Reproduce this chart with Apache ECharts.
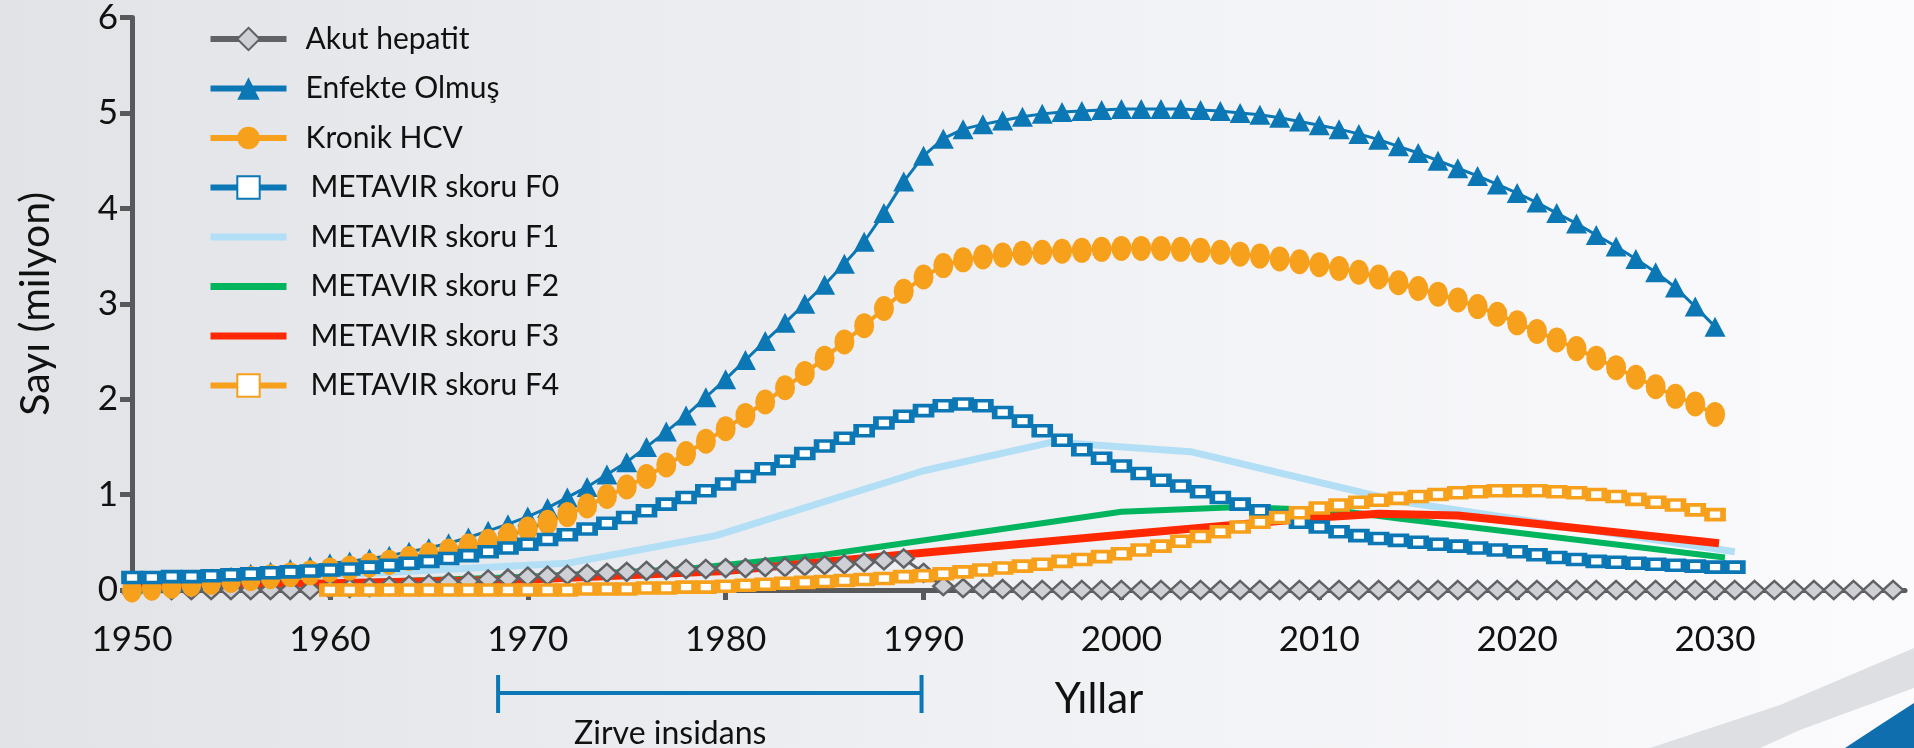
<!DOCTYPE html>
<html lang="tr" style="height: 100%">
<head>
<meta charset="utf-8">
<title>HCV - METAVIR</title>
</head>
<body style="height: 100%; margin: 0">
<div id="container" style="width: 1914px; height: 748px"></div>

<script type="text/javascript" src="https://cdn.jsdelivr.net/npm/echarts@6/dist/echarts.min.js"></script>

<script type="text/javascript">

var dom = document.getElementById('container');
var myChart = echarts.init(dom);

var FONT = 'Lato, "Noto Sans", sans-serif';

// x axis ticks (years)
var yearTicks = [1950, 1960, 1970, 1980, 1990, 2000, 2010, 2020, 2030];

// yearly series, first year + one value per year (milyon)
var akutStart = 1950;
var akutHepatit = [
    0, 0, 0, 0, 0, 0, 0, 0, 0, 0,
    0.01, 0.02, 0.03, 0.04, 0.05, 0.06, 0.08, 0.09, 0.11, 0.12,
    0.14, 0.15, 0.16, 0.17, 0.18, 0.19, 0.20, 0.21, 0.22, 0.22,
    0.23, 0.23, 0.24, 0.24, 0.25, 0.26, 0.27, 0.29, 0.31, 0.33,
    0.18, 0.04, 0.02, 0.01, 0.01, 0, 0, 0, 0, 0,
    0, 0, 0, 0, 0, 0, 0, 0, 0, 0,
    0, 0, 0, 0, 0, 0, 0, 0, 0, 0,
    0, 0, 0, 0, 0, 0, 0, 0, 0, 0,
    0, 0, 0, 0, 0, 0, 0, 0, 0, 0
];

var enfekteStart = 1950;
var enfekteOlmus = [
    0.06, 0.07, 0.08, 0.10, 0.12, 0.14, 0.17, 0.19, 0.22, 0.25,
    0.28, 0.30, 0.33, 0.36, 0.40, 0.44, 0.49, 0.55, 0.62, 0.69,
    0.77, 0.86, 0.97, 1.08, 1.21, 1.34, 1.50, 1.66, 1.83, 2.02,
    2.21, 2.41, 2.61, 2.80, 3.00, 3.20, 3.42, 3.65, 3.95, 4.28,
    4.55, 4.73, 4.83, 4.88, 4.92, 4.96, 4.99, 5.01, 5.02, 5.03,
    5.04, 5.04, 5.04, 5.04, 5.03, 5.02, 5.00, 4.98, 4.95, 4.91,
    4.87, 4.83, 4.78, 4.72, 4.65, 4.58, 4.50, 4.42, 4.34, 4.25,
    4.16, 4.06, 3.95, 3.84, 3.72, 3.60, 3.47, 3.33, 3.17, 2.97, 2.76
];

var kronikStart = 1950;
var kronikHCV = [
    0.00, 0.02, 0.04, 0.06, 0.08, 0.10, 0.12, 0.14, 0.16, 0.18,
    0.21, 0.23, 0.26, 0.29, 0.33, 0.37, 0.41, 0.46, 0.51, 0.57,
    0.64, 0.71, 0.79, 0.88, 0.98, 1.08, 1.19, 1.31, 1.43, 1.56,
    1.69, 1.83, 1.97, 2.12, 2.27, 2.43, 2.60, 2.77, 2.95, 3.13,
    3.28, 3.40, 3.46, 3.49, 3.51, 3.53, 3.54, 3.55, 3.56, 3.57,
    3.58, 3.58, 3.58, 3.57, 3.56, 3.54, 3.52, 3.50, 3.47, 3.44,
    3.41, 3.37, 3.33, 3.28, 3.22, 3.16, 3.10, 3.04, 2.97, 2.89,
    2.80, 2.71, 2.62, 2.53, 2.43, 2.33, 2.23, 2.13, 2.03, 1.95, 1.84
];

var f0Start = 1950;
var metavirF0 = [
    0.13, 0.13, 0.14, 0.14, 0.15, 0.16, 0.17, 0.18, 0.19, 0.20,
    0.21, 0.22, 0.24, 0.26, 0.28, 0.30, 0.33, 0.36, 0.40, 0.44,
    0.48, 0.53, 0.58, 0.64, 0.70, 0.76, 0.83, 0.90, 0.97, 1.04,
    1.11, 1.19, 1.27, 1.35, 1.43, 1.51, 1.59, 1.67, 1.75, 1.82,
    1.88, 1.93, 1.95, 1.93, 1.86, 1.77, 1.67, 1.57, 1.47, 1.38,
    1.30, 1.22, 1.15, 1.09, 1.03, 0.97, 0.90, 0.83, 0.77, 0.71,
    0.66, 0.61, 0.57, 0.54, 0.52, 0.50, 0.48, 0.46, 0.44, 0.42,
    0.40, 0.37, 0.34, 0.32, 0.30, 0.29, 0.28, 0.27, 0.26, 0.25, 0.24, 0.24
];

// F1-F3 are plain polylines: [year, value] vertices
var metavirF1 = [[1950, 0.05], [1972, 0.28], [1979.5, 0.57], [1990, 1.25], [1996.5, 1.55], [2003.5, 1.45], [2014, 0.93], [2031, 0.40]];
var metavirF2 = [[1950, 0.02], [1960, 0.07], [1970, 0.14], [1978, 0.22], [1985, 0.37], [2000, 0.82], [2006, 0.87], [2011, 0.83], [2014, 0.75], [2030.5, 0.34]];
var metavirF3 = [[1950, 0.05], [1960, 0.07], [1970, 0.11], [1980, 0.20], [1990, 0.39], [2000, 0.58], [2010, 0.76], [2013, 0.80], [2017, 0.78], [2030.2, 0.49]];

var f4Start = 1960;
var metavirF4 = [
    0.00, 0.00, 0.00, 0.00, 0.00, 0.00, 0.00, 0.00, 0.00, 0.00,
    0.00, 0.00, 0.00, 0.01, 0.01, 0.01, 0.02, 0.02, 0.03, 0.03,
    0.04, 0.05, 0.06, 0.07, 0.08, 0.09, 0.10, 0.11, 0.12, 0.14,
    0.15, 0.17, 0.19, 0.21, 0.23, 0.25, 0.27, 0.30, 0.32, 0.35,
    0.38, 0.42, 0.46, 0.51, 0.56, 0.61, 0.66, 0.71, 0.76, 0.81,
    0.86, 0.89, 0.92, 0.94, 0.96, 0.98, 1.00, 1.02, 1.03, 1.04,
    1.04, 1.04, 1.03, 1.02, 1.00, 0.98, 0.95, 0.92, 0.89, 0.84, 0.79
];

// "Zirve insidans" bracket, in years
var peakYears = [1968.5, 1989.9];
var peakLabelYear = 1977.2;

function yearly(start, values) {
    return values.map(function (v, i) { return [start + i, v]; });
}

var GRAY = '#616265';
var BLUE = '#0b77b5';
var ORANGE = '#f7a01c';

var plainLine = { opacity: 0 }; // legend: no marker for pure lines

var option = {
    animation: false,
    backgroundColor: new echarts.graphic.LinearGradient(0, 0, 1, 0, [
        { offset: 0, color: '#e2e3e6' },
        { offset: 0.5, color: '#eff0f3' },
        { offset: 1, color: '#fbfbfe' }
    ]),
    textStyle: { fontFamily: FONT },
    grid: { left: 132, right: 9, top: 16, bottom: 158 },
    legend: {
        orient: 'vertical',
        left: 202,
        top: 19,
        itemWidth: 76,
        itemHeight: 28,
        itemGap: 19.5,
        textStyle: { fontFamily: FONT, fontSize: 30, color: '#111', padding: [0, 0, 0, 14] },
        data: [
            { name: 'Akut hepatit', lineStyle: { width: 6 } },
            { name: 'Enfekte Olmuş', lineStyle: { width: 6 } },
            { name: 'Kronik HCV', lineStyle: { width: 6 } },
            { name: 'METAVIR skoru F0', lineStyle: { width: 6 }, textStyle: { padding: [0, 0, 0, 19] } },
            { name: 'METAVIR skoru F1', lineStyle: { width: 7 }, itemStyle: plainLine, textStyle: { padding: [0, 0, 0, 19] } },
            { name: 'METAVIR skoru F2', lineStyle: { width: 7 }, itemStyle: plainLine, textStyle: { padding: [0, 0, 0, 19] } },
            { name: 'METAVIR skoru F3', lineStyle: { width: 7 }, itemStyle: plainLine, textStyle: { padding: [0, 0, 0, 19] } },
            { name: 'METAVIR skoru F4', lineStyle: { width: 6 }, textStyle: { padding: [0, 0, 0, 19] } }
        ]
    },
    xAxis: {
        type: 'value',
        min: 1950,
        max: 2039.6,
        interval: 10,
        name: 'Yıllar',
        nameLocation: 'middle',
        nameGap: 88,
        nameTextStyle: { fontFamily: FONT, fontSize: 42, color: '#111', padding: [0, 0, 0, 161] },
        axisLine: { lineStyle: { color: '#58595b', width: 5 } },
        axisTick: { length: 10, lineStyle: { color: '#58595b', width: 5 }, customValues: yearTicks },
        axisLabel: {
            fontFamily: FONT, fontSize: 35, color: '#111', margin: 32, customValues: yearTicks,
            formatter: function (v) { return String(v); }
        },
        splitLine: { show: false }
    },
    yAxis: {
        type: 'value',
        min: 0,
        max: 6,
        interval: 1,
        name: 'Sayı (milyon)',
        nameLocation: 'middle',
        nameGap: 76,
        nameTextStyle: { fontFamily: FONT, fontSize: 41, color: '#111' },
        axisLine: { show: true, lineStyle: { color: '#58595b', width: 5 } },
        axisTick: { show: true, length: 12, lineStyle: { color: '#58595b', width: 5 } },
        axisLabel: { fontFamily: FONT, fontSize: 35, color: '#111', margin: 14 },
        splitLine: { show: false }
    },
    series: [
        {
            name: 'Akut hepatit',
            type: 'line',
            data: yearly(akutStart, akutHepatit),
            symbol: 'diamond',
            symbolSize: [20, 18],
            lineStyle: { color: GRAY, width: 3 },
            itemStyle: { color: '#cfd0d6', borderColor: GRAY, borderWidth: 2.5 }
        },
        {
            name: 'Enfekte Olmuş',
            type: 'line',
            data: yearly(enfekteStart, enfekteOlmus),
            symbol: 'triangle',
            symbolSize: [21, 20],
            lineStyle: { color: BLUE, width: 3 },
            itemStyle: { color: BLUE }
        },
        {
            name: 'Kronik HCV',
            type: 'line',
            data: yearly(kronikStart, kronikHCV),
            symbol: 'circle',
            symbolSize: [20, 25],
            lineStyle: { color: ORANGE, width: 4 },
            itemStyle: { color: ORANGE }
        },
        {
            name: 'METAVIR skoru F0',
            type: 'line',
            data: yearly(f0Start, metavirF0),
            symbol: 'rect',
            symbolSize: [16, 10],
            lineStyle: { color: BLUE, width: 3 },
            itemStyle: { color: '#ffffff', borderColor: BLUE, borderWidth: 4.5 }
        },
        {
            name: 'METAVIR skoru F1',
            type: 'line',
            data: metavirF1,
            symbol: 'none',
            lineStyle: { color: '#b2def6', width: 7 },
            itemStyle: { color: '#b2def6' }
        },
        {
            name: 'METAVIR skoru F2',
            type: 'line',
            data: metavirF2,
            symbol: 'none',
            lineStyle: { color: '#00b55d', width: 6 },
            itemStyle: { color: '#00b55d' }
        },
        {
            name: 'METAVIR skoru F3',
            type: 'line',
            data: metavirF3,
            symbol: 'none',
            lineStyle: { color: '#ff2800', width: 8 },
            itemStyle: { color: '#ff2800' }
        },
        {
            name: 'METAVIR skoru F4',
            type: 'line',
            data: yearly(f4Start, metavirF4),
            symbol: 'rect',
            symbolSize: [16, 10],
            lineStyle: { color: ORANGE, width: 3 },
            itemStyle: { color: '#ffffff', borderColor: ORANGE, borderWidth: 4.5 }
        }
    ]
};

myChart.setOption(option);

// bracket under the axis and the corner swoosh of the slide
var bx0 = myChart.convertToPixel({ xAxisIndex: 0 }, peakYears[0]);
var bx1 = myChart.convertToPixel({ xAxisIndex: 0 }, peakYears[1]);
var lx = myChart.convertToPixel({ xAxisIndex: 0 }, peakLabelYear);
var by = 693;

myChart.setOption({
    graphic: [
        {
            type: 'polygon',
            silent: true,
            z: -1,
            shape: { points: [[1650, 748], [1780, 705], [1914, 648], [1914, 688], [1800, 730], [1760, 748]] },
            style: { fill: '#dedfe2' }
        },
        {
            type: 'polygon',
            silent: true,
            z: -1,
            shape: { points: [[1845, 748], [1880, 725], [1914, 703], [1914, 748]] },
            style: { fill: '#0f6fae' }
        },
        {
            type: 'group',
            silent: true,
            children: [
                { type: 'line', shape: { x1: bx0, y1: by, x2: bx1, y2: by }, style: { stroke: BLUE, lineWidth: 4 } },
                { type: 'line', shape: { x1: bx0, y1: by - 18, x2: bx0, y2: by + 20 }, style: { stroke: BLUE, lineWidth: 4 } },
                { type: 'line', shape: { x1: bx1, y1: by - 18, x2: bx1, y2: by + 20 }, style: { stroke: BLUE, lineWidth: 4 } },
                {
                    type: 'text',
                    x: lx,
                    y: 734,
                    style: {
                        text: 'Zirve insidans',
                        fontFamily: FONT,
                        fontSize: 32,
                        fill: '#111',
                        align: 'center',
                        verticalAlign: 'middle'
                    }
                }
            ]
        }
    ]
});

window.addEventListener('resize', myChart.resize);
</script>
</body>
</html>
